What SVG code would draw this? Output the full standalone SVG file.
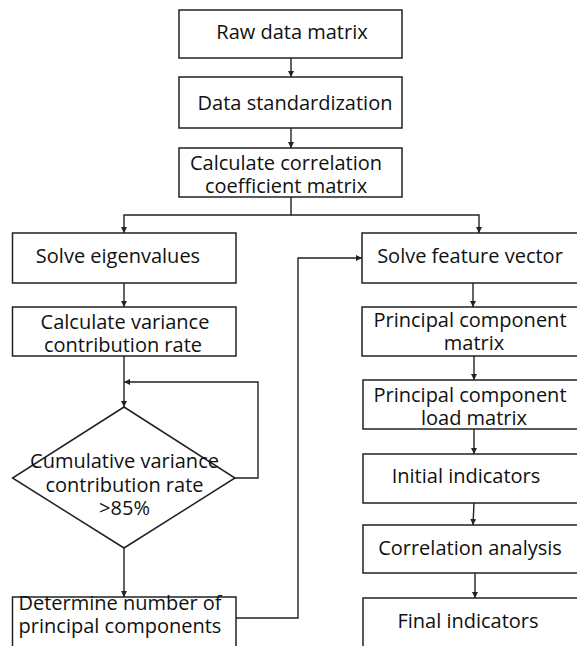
<svg xmlns="http://www.w3.org/2000/svg" width="577" height="646" viewBox="0 0 577 646">
<style>
.box{fill:#fff;stroke:#222;stroke-width:1.5}
.t{font-family:"Open Sans","Noto Sans","Liberation Sans",sans-serif;font-size:20px;fill:#111;text-anchor:middle}
.c{fill:none;stroke:#222;stroke-width:1.4}
</style>
<defs>
<marker id="ah" viewBox="0 0 10 10" refX="10" refY="5" markerWidth="6" markerHeight="6" markerUnits="userSpaceOnUse" orient="auto">
<path d="M0,0 L10,5 L0,10 z" fill="#222"/>
</marker>
</defs>
<rect width="577" height="646" fill="#fff"/>
<g id="connectors">
<path class="c" d="M291,58 V77" marker-end="url(#ah)"/>
<path class="c" d="M291,128 V148" marker-end="url(#ah)"/>
<path class="c" d="M291,197 V215 H124 V233" marker-end="url(#ah)"/>
<path class="c" d="M291,215 H479 V233" marker-end="url(#ah)"/>
<path class="c" d="M124,283 V307" marker-end="url(#ah)"/>
<path class="c" d="M124,356 V407" marker-end="url(#ah)"/>
<path class="c" d="M235,478 H258 V382 H124" marker-end="url(#ah)"/>
<path class="c" d="M124,548 V597" marker-end="url(#ah)"/>
<path class="c" d="M236,618 H298 V258 H362" marker-end="url(#ah)"/>
<path class="c" d="M473,283 V307" marker-end="url(#ah)"/>
<path class="c" d="M474,356 V380" marker-end="url(#ah)"/>
<path class="c" d="M474,429 V454" marker-end="url(#ah)"/>
<path class="c" d="M474,503 L473,525" marker-end="url(#ah)"/>
<path class="c" d="M475,573 V598" marker-end="url(#ah)"/>
</g>
<g id="raw">
<rect class="box" x="179" y="10" width="223" height="48"/>
<text class="t" x="292" y="39">Raw data matrix</text>
</g>
<g id="standardization">
<rect class="box" x="179" y="77" width="223" height="51"/>
<text class="t" x="295" y="110">Data standardization</text>
</g>
<g id="correlation-matrix">
<rect class="box" x="179" y="148" width="223" height="49"/>
<text class="t"><tspan x="286" y="170">Calculate correlation</tspan><tspan x="286" y="193">coefficient matrix</tspan></text>
</g>
<g id="eigenvalues">
<rect class="box" x="12.5" y="233" width="223.5" height="50"/>
<text class="t" x="118" y="263">Solve eigenvalues</text>
</g>
<g id="variance">
<rect class="box" x="12.5" y="307" width="223.5" height="49"/>
<text class="t"><tspan x="125" y="329">Calculate variance</tspan><tspan x="123" y="352">contribution rate</tspan></text>
</g>
<g id="cumulative">
<polygon class="box" points="124,407 235,478 124,548 12.5,478"/>
<text class="t"><tspan x="124.5" y="468">Cumulative variance</tspan><tspan x="124.5" y="492">contribution rate</tspan><tspan x="124.5" y="515">&gt;85%</tspan></text>
</g>
<g id="determine">
<rect class="box" x="12.5" y="597" width="223.5" height="55"/>
<text class="t"><tspan x="120" y="610">Determine number of</tspan><tspan x="120" y="633">principal components</tspan></text>
</g>
<g id="feature-vector">
<rect class="box" x="362" y="233" width="220" height="50"/>
<text class="t" x="470" y="263">Solve feature vector</text>
</g>
<g id="pc-matrix">
<rect class="box" x="362" y="307" width="220" height="49"/>
<text class="t"><tspan x="470" y="327">Principal component</tspan><tspan x="474" y="350">matrix</tspan></text>
</g>
<g id="load-matrix">
<rect class="box" x="363" y="380" width="220" height="49"/>
<text class="t"><tspan x="470" y="402">Principal component</tspan><tspan x="474" y="425">load matrix</tspan></text>
</g>
<g id="initial">
<rect class="box" x="363" y="454" width="220" height="49"/>
<text class="t" x="466" y="483">Initial indicators</text>
</g>
<g id="correlation-analysis">
<rect class="box" x="363" y="525" width="220" height="48"/>
<text class="t" x="470" y="555">Correlation analysis</text>
</g>
<g id="final">
<rect class="box" x="363" y="598" width="220" height="56"/>
<text class="t" x="468" y="628">Final indicators</text>
</g>
</svg>
